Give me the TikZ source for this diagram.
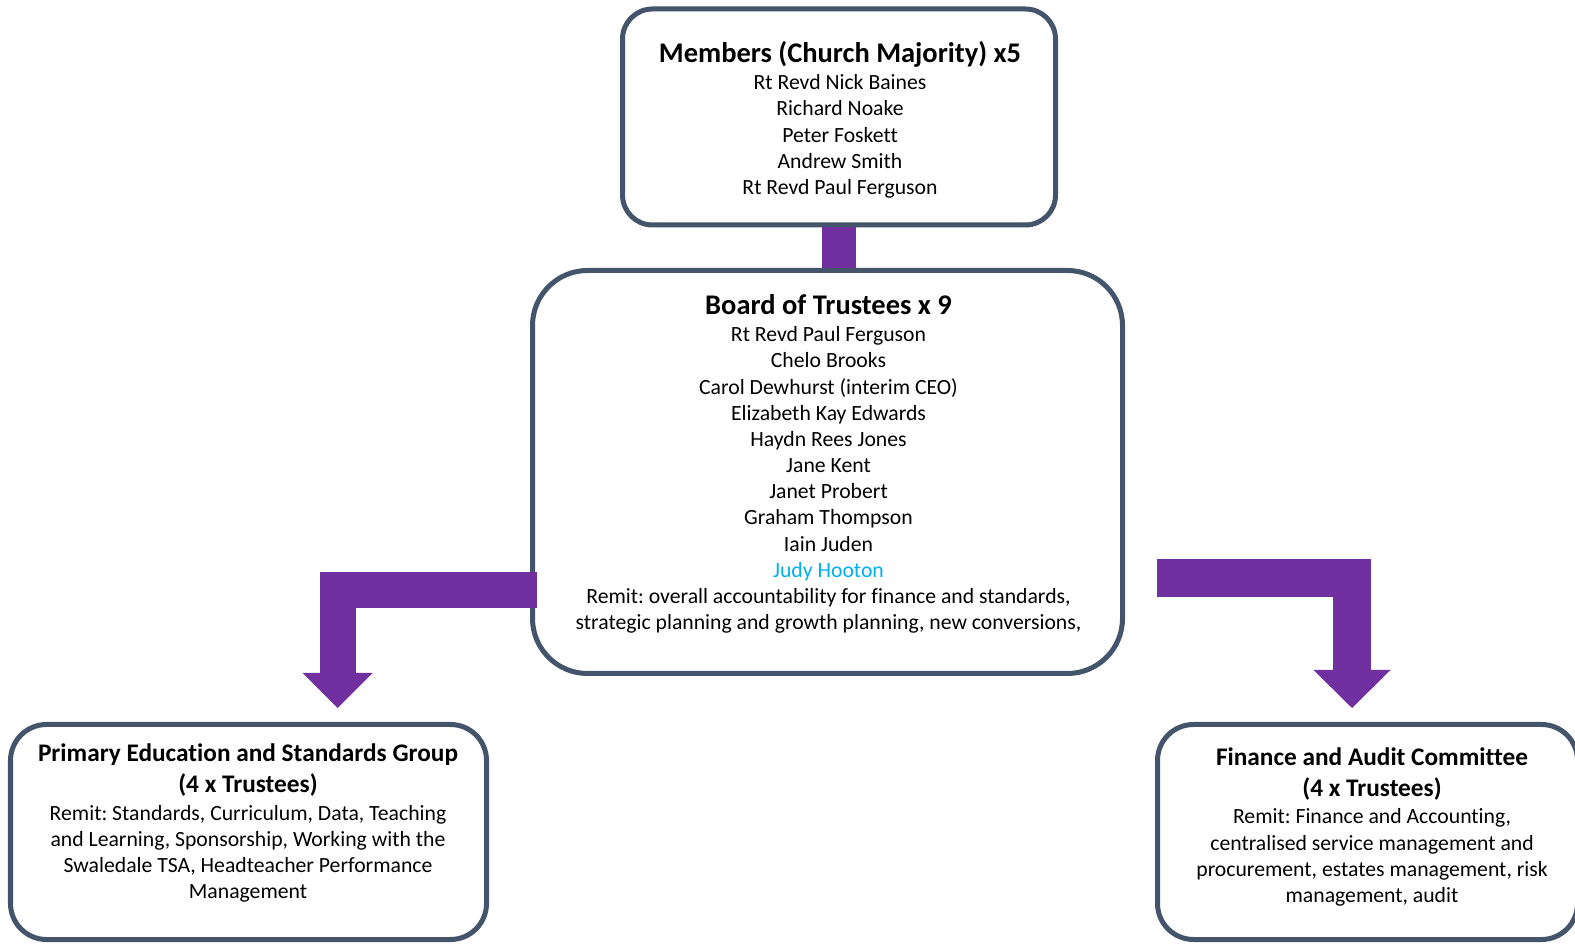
\documentclass[tikz,border=0pt]{standalone}
\usepackage{fontspec}
\setmainfont{Carlito}[Ligatures=NoCommon]
\usetikzlibrary{arrows.meta,positioning}
\definecolor{boxline}{HTML}{44546A}
\definecolor{trustpurple}{HTML}{7030A0}
\definecolor{newname}{HTML}{00B0F0}
\frenchspacing

\begin{document}
\begin{tikzpicture}[
  box/.style={rectangle, draw=boxline, line width=0.1cm, fill=white, rounded corners=#1},
  box/.default=0.7cm,
  head/.style={font=\bfseries\fontsize{16.2}{19.5}\selectfont, align=center},
  subhead/.style={font=\bfseries\fontsize{14.4}{17.6}\selectfont, align=center},
  body/.style={font=\fontsize{12.35}{14.9}\selectfont, align=center},
  bar/.style={draw=trustpurple, line width=0.68cm},
  elbow/.style={draw=trustpurple}
]
\useasboundingbox (0,0) rectangle (31.5,18.88);

% Members
\node[box=0.6cm, minimum width=8.66cm, minimum height=4.32cm] (members) at (16.78,16.54) {};
\node[head] (memtitle) at (16.8,17.79) {Members (Church Majority) x5};
\node[body] (memlist) at (16.8,16.15) {Rt Revd Nick Baines\\Richard Noake\\Peter Foskett\\Andrew Smith\\Rt Revd Paul Ferguson};

% Board of trustees
\node[box=1.1cm, minimum width=11.8cm, minimum height=8.06cm] (board) at (16.55,9.44) {};
\node[head] (boardtitle) at (16.57,12.79) {Board of Trustees x 9};
\node[body] (boardlist) at (16.57,9.28) {Rt Revd Paul Ferguson\\Chelo Brooks\\Carol Dewhurst (interim CEO)\\Elizabeth Kay Edwards\\Haydn Rees Jones\\Jane Kent\\Janet Probert\\Graham Thompson\\Iain Juden\\\textcolor{newname}{Judy Hooton}\\Remit: overall accountability for finance and standards,\\strategic planning and growth planning, new conversions,};

% Primary education group
\node[box=0.72cm, minimum width=9.52cm, minimum height=4.3cm] (pesg) at (4.97,2.24) {};
\node[subhead] (pesgtitle) at (4.96,3.48) {Primary Education and Standards Group\\(4 x Trustees)};
\node[body] (pesgremit) at (4.96,1.80) {Remit: Standards, Curriculum, Data, Teaching\\and Learning, Sponsorship, Working with the\\Swaledale TSA, Headteacher Performance\\Management};

% Finance committee
\node[box=0.72cm, minimum width=8.4cm, minimum height=4.3cm] (fac) at (27.35,2.24) {};
\node[subhead] (factitle) at (27.44,3.39) {Finance and Audit Committee\\(4 x Trustees)};
\node[body] (facremit) at (27.44,1.73) {Remit: Finance and Accounting,\\centralised service management and\\procurement, estates management, risk\\management, audit};

% Connectors
\coordinate (lefttip) at (6.75,4.72);
\coordinate (rightstart) at (23.14,7.32);
\coordinate (righttip) at (27.04,4.72);

\draw[bar] (members.south) -- (members.south |- board.north);
\draw[elbow, line width=0.72cm, -{Triangle[width=1.4cm, length=0.7cm, line width=0pt]}]
  ([xshift=0.14cm]board.west |- 0,7.07) -| (lefttip);
\draw[elbow, line width=0.76cm, -{Triangle[width=1.54cm, length=0.76cm, line width=0pt]}]
  (rightstart) -| (righttip);

\end{tikzpicture}
\end{document}
